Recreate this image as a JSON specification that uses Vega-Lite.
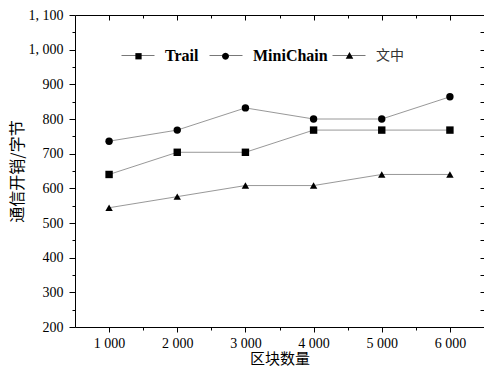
{
  "$schema": "https://vega.github.io/schema/vega-lite/v6.json",
  "autosize": "none",
  "width": 409,
  "height": 312,
  "padding": {"left": 75, "top": 15, "right": 0, "bottom": 43},
  "background": "white",
  "config": {
    "view": {"stroke": null},
    "axis": {
      "domainColor": "black",
      "tickColor": "black",
      "labelFont": "Liberation Serif",
      "labelFontSize": 14,
      "labelColor": "black",
      "titleFont": "Noto Sans CJK SC",
      "titleFontSize": 16,
      "titleFontWeight": "normal",
      "titleColor": "black"
    }
  },
  "data": {
    "values": [
      {"blocks": 1000, "bytes": 640, "series": "Trail"},
      {"blocks": 2000, "bytes": 704, "series": "Trail"},
      {"blocks": 3000, "bytes": 704, "series": "Trail"},
      {"blocks": 4000, "bytes": 768, "series": "Trail"},
      {"blocks": 5000, "bytes": 768, "series": "Trail"},
      {"blocks": 6000, "bytes": 768, "series": "Trail"},
      {"blocks": 1000, "bytes": 736, "series": "MiniChain"},
      {"blocks": 2000, "bytes": 768, "series": "MiniChain"},
      {"blocks": 3000, "bytes": 832, "series": "MiniChain"},
      {"blocks": 4000, "bytes": 800, "series": "MiniChain"},
      {"blocks": 5000, "bytes": 800, "series": "MiniChain"},
      {"blocks": 6000, "bytes": 864, "series": "MiniChain"},
      {"blocks": 1000, "bytes": 544, "series": "文中"},
      {"blocks": 2000, "bytes": 576, "series": "文中"},
      {"blocks": 3000, "bytes": 608, "series": "文中"},
      {"blocks": 4000, "bytes": 608, "series": "文中"},
      {"blocks": 5000, "bytes": 640, "series": "文中"},
      {"blocks": 6000, "bytes": 640, "series": "文中"}
    ]
  },
  "resolve": {"axis": {"x": "independent", "y": "independent"}, "scale": {"shape": "independent", "size": "independent"}},
  "layer": [
    {
      "mark": {"type": "line", "color": "#8c8c8c", "strokeWidth": 0.9},
      "encoding": {
        "x": {
          "field": "blocks", "type": "quantitative",
          "scale": {"domain": [500, 6500], "nice": false, "zero": false},
          "axis": {
            "orient": "bottom",
            "grid": false,
            "values": [1000, 2000, 3000, 4000, 5000, 6000],
            "labelExpr": "replace(format(datum.value, ','), ',', ' ')",
            "ticks": true,
            "tickSize": 5,
            "tickColor": "black",
            "tickWidth": 1,
            "domain": true,
            "domainColor": "black",
            "domainWidth": 1,
            "labelPadding": 4,
            "labelFlush": false,
            "title": "区块数量",
            "titleFontSize": 15,
            "titlePadding": 1
          }
        },
        "y": {
          "field": "bytes", "type": "quantitative",
          "scale": {"domain": [200, 1100], "nice": false, "zero": false},
          "axis": {
            "orient": "left",
            "grid": false,
            "values": [200, 300, 400, 500, 600, 700, 800, 900, 1000, 1100],
            "labelExpr": "datum.value >= 1000 ? replace(format(datum.value, ','), ',', ', ') : format(datum.value, 'd')",
            "ticks": true,
            "tickSize": 6,
            "tickColor": "black",
            "tickWidth": 1,
            "domain": true,
            "domainColor": "black",
            "domainWidth": 1,
            "labelPadding": 6,
            "labelFlush": false,
            "labelOverlap": false,
            "title": "通信开销/字节",
            "titlePadding": 3
          }
        },
        "detail": {"field": "series", "type": "nominal"}
      }
    },
    {
      "mark": {"type": "point", "filled": true, "color": "black", "opacity": 1},
      "encoding": {
        "x": {
          "field": "blocks", "type": "quantitative",
          "axis": {
            "orient": "top",
            "grid": false,
            "values": [1000, 2000, 3000, 4000, 5000, 6000],
            "labels": false,
            "title": "",
            "ticks": true,
            "tickSize": -5,
            "tickColor": "black",
            "tickWidth": 1,
            "domain": true,
            "domainColor": "black",
            "domainWidth": 1
          }
        },
        "y": {
          "field": "bytes", "type": "quantitative",
          "axis": {
            "orient": "right",
            "grid": false,
            "values": [200, 250, 300, 350, 400, 450, 500, 550, 600, 650, 700, 750, 800, 850, 900, 950, 1000, 1050, 1100],
            "labels": false,
            "title": "",
            "ticks": true,
            "tickSize": -4,
            "tickColor": "black",
            "tickWidth": 1,
            "domain": true,
            "domainColor": "black",
            "domainWidth": 1
          }
        },
        "shape": {
          "field": "series", "type": "nominal",
          "scale": {"domain": ["Trail", "MiniChain", "文中"], "range": ["square", "circle", "triangle-up"]},
          "legend": null
        },
        "size": {
          "field": "series", "type": "nominal",
          "scale": {"domain": ["Trail", "MiniChain", "文中"], "range": [55, 55, 72]},
          "legend": null
        }
      }
    },
    {
      "transform": [{"filter": "datum.series !== '文中'"}],
      "mark": {"type": "point", "filled": false, "color": "#555555", "strokeWidth": 0.8, "opacity": 0},
      "encoding": {
        "x": {
          "field": "blocks", "type": "quantitative",
          "axis": {
            "orient": "bottom",
            "grid": false,
            "values": [1500, 2500, 3500, 4500, 5500],
            "labels": false,
            "domain": false,
            "title": "",
            "ticks": true,
            "tickSize": 3,
            "tickColor": "black",
            "tickWidth": 1
          }
        },
        "y": {
          "field": "bytes", "type": "quantitative",
          "axis": {
            "orient": "left",
            "grid": false,
            "values": [250, 350, 450, 550, 650, 750, 850, 950, 1050],
            "labels": false,
            "domain": false,
            "title": "",
            "ticks": true,
            "tickSize": 3,
            "tickColor": "black",
            "tickWidth": 1
          }
        },
        "shape": {
          "field": "series", "type": "nominal",
          "scale": {"domain": ["Trail", "MiniChain"], "range": ["M-1,0H1", "M-1,0H1"]},
          "legend": {
            "orient": "none",
            "legendX": 46,
            "legendY": 23.5,
            "direction": "horizontal",
            "title": null,
            "padding": 0,
            "symbolSize": 1089,
            "symbolOpacity": 1,
            "symbolStrokeWidth": 0.8,
            "labelOffset": 10,
            "columnPadding": 8,
            "labelFont": "Liberation Serif",
            "labelFontSize": 16,
            "labelFontWeight": "bold",
            "labelColor": "black"
          }
        }
      }
    },
    {
      "transform": [{"filter": "datum.series !== '文中'"}],
      "mark": {"type": "point", "filled": true, "color": "black", "opacity": 0},
      "encoding": {
        "x": {
          "field": "blocks", "type": "quantitative",
          "axis": {
            "orient": "top",
            "grid": false,
            "values": [1500, 2500, 3500, 4500, 5500],
            "labels": false,
            "domain": false,
            "title": "",
            "ticks": true,
            "tickSize": -3,
            "tickColor": "black",
            "tickWidth": 1
          }
        },
        "y": {"field": "bytes", "type": "quantitative", "axis": null},
        "shape": {
          "field": "series", "type": "nominal",
          "scale": {
            "domain": ["Trail", "MiniChain"],
            "range": [
              "M-0.19,-0.19L0.19,-0.19L0.19,0.19L-0.19,0.19Z",
              "M0.21,0L0.182,0.105L0.105,0.182L0,0.21L-0.105,0.182L-0.182,0.105L-0.21,0L-0.182,-0.105L-0.105,-0.182L0,-0.21L0.105,-0.182L0.182,-0.105Z"
            ]
          },
          "legend": {
            "orient": "none",
            "legendX": 46,
            "legendY": 23.5,
            "direction": "horizontal",
            "title": null,
            "padding": 0,
            "symbolSize": 1089,
            "symbolOpacity": 1,
            "labelOffset": 10,
            "columnPadding": 8,
            "labelFont": "Liberation Serif",
            "labelFontSize": 16,
            "labelFontWeight": "bold",
            "labelColor": "black",
            "labelOpacity": 0
          }
        }
      }
    },
    {
      "transform": [{"filter": "datum.series === '文中'"}],
      "mark": {"type": "point", "filled": false, "color": "#555555", "strokeWidth": 0.8, "opacity": 0},
      "encoding": {
        "x": {"field": "blocks", "type": "quantitative", "axis": null},
        "y": {"field": "bytes", "type": "quantitative", "axis": null},
        "shape": {
          "field": "series", "type": "nominal",
          "scale": {"domain": ["文中"], "range": ["M-1,0H1"]},
          "legend": {
            "orient": "none",
            "legendX": 257,
            "legendY": 23.5,
            "direction": "horizontal",
            "title": null,
            "padding": 0,
            "symbolSize": 1089,
            "symbolOpacity": 1,
            "symbolStrokeWidth": 0.8,
            "labelOffset": 10,
            "labelFont": "Noto Sans CJK SC",
            "labelFontSize": 14,
            "labelFontWeight": "normal",
            "labelColor": "#333333"
          }
        }
      }
    },
    {
      "transform": [{"filter": "datum.series === '文中'"}],
      "mark": {"type": "point", "filled": true, "color": "black", "opacity": 0},
      "encoding": {
        "x": {"field": "blocks", "type": "quantitative", "axis": null},
        "y": {"field": "bytes", "type": "quantitative", "axis": null},
        "shape": {
          "field": "series", "type": "nominal",
          "scale": {"domain": ["文中"], "range": ["M0,-0.24L0.23,0.17L-0.23,0.17Z"]},
          "legend": {
            "orient": "none",
            "legendX": 257,
            "legendY": 23.5,
            "direction": "horizontal",
            "title": null,
            "padding": 0,
            "symbolSize": 1089,
            "symbolOpacity": 1,
            "labelOffset": 10,
            "labelFont": "Noto Sans CJK SC",
            "labelFontSize": 14,
            "labelFontWeight": "normal",
            "labelColor": "#333333",
            "labelOpacity": 0
          }
        }
      }
    }
  ]
}
